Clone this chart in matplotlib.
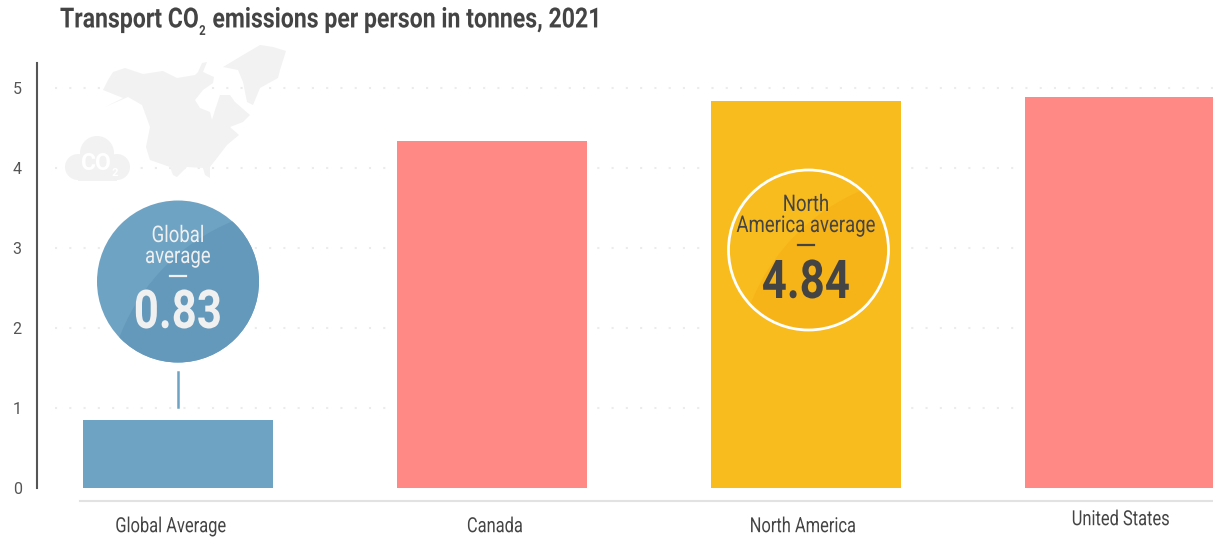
import matplotlib

matplotlib.use("Agg")
import matplotlib.pyplot as plt
from matplotlib.patches import Circle, Polygon, Rectangle
from matplotlib.patheffects import AbstractPathEffect
from matplotlib.transforms import Affine2D
from matplotlib.lines import Line2D

plt.rcParams["font.family"] = ["Roboto", "DejaVu Sans"]
plt.rcParams["mathtext.default"] = "regular"

categories = ["Global Average", "Canada", "North America", "United States"]
values = [0.85, 4.34, 4.84, 4.89]
colors = ["#6fa3c4", "#ff8a85", "#f9bc1e", "#ff8a85"]
yticks = [0, 1, 2, 3, 4, 5]
title = r"Transport CO$_{_2}$ emissions per person in tonnes, 2021"

# rough outlines for the faded map behind the chart, in pixels
mainland = [(105, 107), (123, 98), (103, 90), (108, 80), (113, 72), (125, 68), (143, 74),
            (163, 71), (177, 78), (195, 75), (198, 72), (202, 63), (207, 62), (203, 72),
            (214, 77), (213, 83), (203, 90), (195, 100), (200, 108), (210, 112), (212, 120),
            (215, 110), (220, 95), (230, 95), (235, 102), (250, 115), (243, 122), (230, 127),
            (239, 135), (227, 145), (217, 158), (210, 167), (210, 178), (205, 175), (203, 168),
            (187, 167), (177, 177), (173, 175), (170, 167), (150, 160), (146, 147), (150, 127),
            (142, 105), (128, 97)]
greenland = [(223, 67), (243, 55), (260, 45), (273, 47), (286, 51), (280, 70), (278, 78),
             (260, 88), (253, 105), (247, 102), (243, 82), (238, 70)]


class Narrow(AbstractPathEffect):
    # no condensed font installed, so squeeze the glyphs sideways when drawn
    def __init__(self, sx=0.82, left=False):
        super().__init__()
        self.sx = sx
        self.left = left

    def draw_path(self, renderer, gc, tpath, affine, rgbFace=None):
        xs = affine.transform(tpath.vertices)[:, 0]
        x0 = xs.min() if self.left else (xs.min() + xs.max()) / 2
        squeeze = Affine2D().translate(-x0, 0).scale(self.sx, 1).translate(x0, 0)
        renderer.draw_path(gc, tpath, affine + squeeze, rgbFace)


fig = plt.figure(figsize=(12.13, 5.38), dpi=100)
ax = fig.add_axes([37 / 1213, 50 / 538, 1176 / 1213, 425 / 538])
px = Affine2D().scale(1, -1).translate(0, 538)

x = list(range(len(categories)))
ax.bar(x, values, width=190 / 314, color=colors, zorder=3)
ax.set_xlim(-141 / 314, 1035 / 314)
ax.set_ylim(0, 425 / 80)

ax.hlines(yticks[1:], 0.015, 1, transform=ax.get_yaxis_transform(), color="#ececec",
          lw=1.5, linestyle=(0, (1, 5.85)), zorder=0)

for side in ["top", "right", "bottom"]:
    ax.spines[side].set_visible(False)
ax.spines["left"].set_linewidth(1.5)
ax.spines["left"].set_color("#555555")

ax.set_yticks(yticks)
ax.tick_params(axis="y", length=0, pad=11, labelsize=11.5, labelcolor="#555555")
ax.set_xticks(x, categories)
ax.tick_params(axis="x", length=0, pad=21, labelsize=15, labelcolor="#444444")
for lbl, (dx, dy) in zip(ax.get_xticklabels(), [(-7, 0), (3, 0), (-3, 0), (1, 7)]):
    lbl.set_transform(lbl.get_transform() + Affine2D().translate(dx, dy))
    lbl.set_path_effects([Narrow(0.79)])

fig.add_artist(Line2D([80, 1213], [501, 501], transform=px, color="#e2e2e2", lw=1.5))

# map and cloud
map_color = "#f2f2f2"
for shape in [mainland, greenland]:
    fig.add_artist(Polygon(shape, closed=True, transform=px, color=map_color, lw=0))
for cx, cy, r in [(97, 153, 17), (78, 167, 13), (117, 167, 13)]:
    fig.add_artist(Circle((cx, cy), r, transform=px, color=map_color, lw=0))
fig.add_artist(Rectangle((78, 163), 39, 18, transform=px, color=map_color, lw=0))
fig.text(100, 165, r"CO$_{_2}$", transform=px, color="white", fontsize=16.5, fontweight="bold",
         ha="center", va="center")


def badge(cx, cy, light, dark, arc_center, arc_r, edge=None):
    fig.add_artist(Circle((cx, cy), 81, transform=px, color=light, lw=0))
    shade = Circle(arc_center, arc_r, transform=px, color=dark, lw=0)
    fig.add_artist(shade)
    shade.set_clip_path(Circle((cx, cy), 81, transform=px))
    if edge:
        fig.add_artist(Circle((cx, cy), 80, transform=px, fill=False, edgecolor=edge, lw=2))


def badge_text(cx, lines, y_lines, y_dash, y_value, value, color):
    for line, y in zip(lines, y_lines):
        fig.text(cx, y, line, transform=px, color=color, fontsize=16.5, ha="center",
                 va="baseline", path_effects=[Narrow(0.81)])
    fig.add_artist(Line2D([cx - 8, cx + 8], [y_dash, y_dash], transform=px, color=color, lw=1.6))
    fig.text(cx, y_value, value, transform=px, color=color, fontsize=38.5, fontweight="bold",
             ha="center", va="baseline", path_effects=[Narrow(0.82)])


badge(178, 281.5, "#6fa3c4", "#6499bc", (310, 410), 204)
badge_text(178, ["Global", "average"], [242, 263], 276, 328, "0.83", "#f0f0f0")
fig.add_artist(Line2D([178, 178], [372, 407], transform=px, color="#6fa3c4", lw=1.8))

badge(808.5, 250, "#f9bc1e", "#f7b418", (940.5, 378.5), 204, edge="white")
badge_text(806, ["North", "America average"], [211, 232], 245, 298, "4.84", "#444444")

fig.text(60, 27.5, title, transform=px, color="#444444", fontsize=20, fontweight="bold",
         ha="left", va="baseline", path_effects=[Narrow(0.83, left=True)])

fig.savefig("out.png", dpi=100)
